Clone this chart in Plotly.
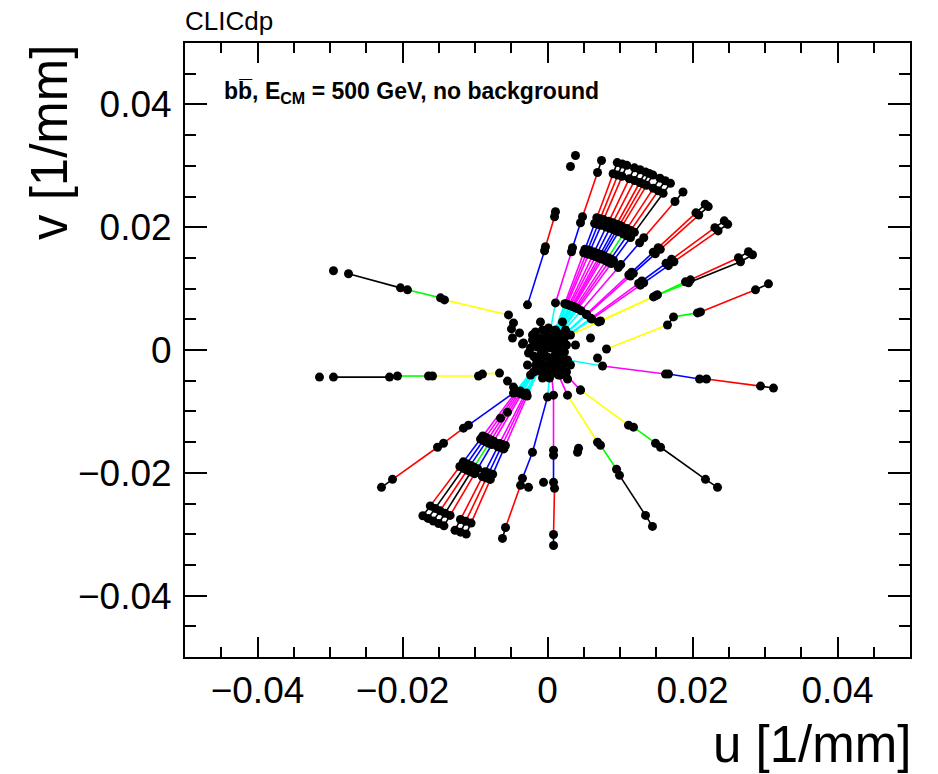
import plotly.graph_objects as go

# ---------------- data: conformal-space hits (u, v in 1/mm), outer -> inner ----------------
# segment colour codes: c cyan, m magenta, b blue, r red, k black, y yellow, g green, n no line
L1_u = [-0.02952, -0.02745, -0.02028, -0.01931, -0.01476, -0.01421, -0.00538]
L1_v = [0.01290, 0.01241, 0.01012, 0.00980, 0.00849, 0.00816, 0.00571]
L1_s = "nkkggy"

L2_u = [-0.03145, -0.02952, -0.02179, -0.02069, -0.01641, -0.01586, -0.00952, -0.00897, -0.00662]
L2_v = [-0.00441, -0.00441, -0.00441, -0.00424, -0.00424, -0.00424, -0.00424, -0.00392, -0.00376]
L2_s = "nkkggyyy"

U1_u = [0.00110, 0.00097, -0.00028, -0.00041, -0.00276]
U1_v = [0.02253, 0.02171, 0.01682, 0.01616, 0.00735]
U1_s = "krkb"

U2_u = [0.00745, 0.00690, 0.00483, 0.00455, 0.00345, 0.00331, 0.00110, 0.00028]
U2_v = [0.03086, 0.02890, 0.02171, 0.02073, 0.01665, 0.01600, 0.00767, 0.00245]
U2_s = "krkbkmc"

F1_u = [0.00962, 0.00905, 0.00680, 0.00650, 0.00517, 0.00499, 0.00238, 0.00090]
F1_v = [0.03052, 0.02871, 0.02155, 0.02060, 0.01640, 0.01583, 0.00753, 0.00286]
F2_u = [0.01031, 0.00970, 0.00728, 0.00696, 0.00554, 0.00535, 0.00255, 0.00097]
F2_v = [0.03029, 0.02849, 0.02139, 0.02045, 0.01628, 0.01571, 0.00748, 0.00284]
F3_u = [0.01094, 0.01029, 0.00773, 0.00739, 0.00588, 0.00568, 0.00270, 0.00103]
F3_v = [0.03007, 0.02828, 0.02124, 0.02030, 0.01616, 0.01560, 0.00742, 0.00282]
F4_u = [0.01199, 0.01128, 0.00847, 0.00809, 0.00644, 0.00622, 0.00296, 0.00112]
F4_v = [0.02967, 0.02791, 0.02095, 0.02003, 0.01595, 0.01539, 0.00732, 0.00278]
F5_u = [0.01276, 0.01200, 0.00901, 0.00861, 0.00686, 0.00662, 0.00315, 0.00120]
F5_v = [0.02935, 0.02760, 0.02073, 0.01981, 0.01577, 0.01522, 0.00725, 0.00275]
F6_u = [0.01352, 0.01272, 0.00955, 0.00913, 0.00727, 0.00702, 0.00334, 0.00127]
F6_v = [0.02900, 0.02728, 0.02048, 0.01958, 0.01559, 0.01504, 0.00716, 0.00272]
F7_u = [0.01403, 0.01320, 0.00991, 0.00947, 0.00754, 0.00728, 0.00346, 0.00132]
F7_v = [0.02876, 0.02705, 0.02031, 0.01941, 0.01546, 0.01492, 0.00710, 0.00270]
F8_u = [0.01453, 0.01367, 0.01026, 0.00981, 0.00781, 0.00754, 0.00359, 0.00136]
F8_v = [0.02851, 0.02682, 0.02014, 0.01925, 0.01533, 0.01479, 0.00704, 0.00267]
F9_u = [0.01551, 0.01459, 0.01096, 0.01047, 0.00834, 0.00805, 0.00383, 0.00145]
F9_v = [0.02799, 0.02633, 0.01977, 0.01889, 0.01504, 0.01452, 0.00691, 0.00262]
F10_u = [0.01624, 0.01528, 0.01147, 0.01096, 0.00873, 0.00842, 0.00401, 0.00152]
F10_v = [0.02757, 0.02593, 0.01947, 0.01861, 0.01482, 0.01430, 0.00681, 0.00258]
F11_u = [0.01696, 0.01595, 0.01198, 0.01145, 0.00911, 0.00880, 0.00419, 0.00159]
F11_v = [0.02714, 0.02552, 0.01916, 0.01832, 0.01459, 0.01408, 0.00670, 0.00254]

R1_u = [0.01869, 0.01758, 0.01328, 0.01270, 0.01011, 0.00976, 0.00464, 0.00176]
R1_v = [0.02573, 0.02419, 0.01828, 0.01747, 0.01391, 0.01343, 0.00639, 0.00243]
R2a_u = [0.02175, 0.02047, 0.01527, 0.01459, 0.01162, 0.01121, 0.00534, 0.00203]
R2a_v = [0.02374, 0.02234, 0.01666, 0.01593, 0.01268, 0.01224, 0.00582, 0.00221]
R2b_u = [0.02217, 0.02086, 0.01556, 0.01487, 0.01184, 0.01143, 0.00544, 0.00207]
R2b_v = [0.02336, 0.02198, 0.01639, 0.01567, 0.01248, 0.01204, 0.00573, 0.00218]
R3a_u = [0.02438, 0.02309, 0.01711, 0.01635, 0.01302, 0.01257, 0.00598, 0.00227]
R3a_v = [0.02104, 0.01993, 0.01477, 0.01411, 0.01124, 0.01085, 0.00516, 0.00196]
R3b_u = [0.02485, 0.02353, 0.01744, 0.01667, 0.01327, 0.01281, 0.00610, 0.00231]
R3b_v = [0.02048, 0.01940, 0.01438, 0.01374, 0.01094, 0.01056, 0.00503, 0.00191]
R4a_u = [0.02772, 0.02634, 0.01972, 0.01903, 0.01517, 0.01462, 0.00703, 0.00317]
R4a_v = [0.01600, 0.01502, 0.01143, 0.01110, 0.00898, 0.00865, 0.00457, 0.00245]
R4a_s = "krkgkyy"
R4b_u = [0.02828, 0.02662, 0.01945, 0.01490, 0.00731]
R4b_v = [0.01551, 0.01437, 0.01094, 0.00882, 0.00473]
R4b_s = "kkgy"
R5_u = [0.03048, 0.02869, 0.02110, 0.02069, 0.01738, 0.01655, 0.00814]
R5_v = [0.01078, 0.00980, 0.00620, 0.00604, 0.00539, 0.00408, 0.00016]
R5_s = "krkgky"
R6_u = [0.03117, 0.02938, 0.02193, 0.02097, 0.01669, 0.01628, 0.00759, 0.00276]
R6_v = [-0.00620, -0.00588, -0.00473, -0.00473, -0.00392, -0.00392, -0.00261, -0.00163]

LR1_u = [0.02345, 0.02179, 0.01559, 0.01490, 0.01186, 0.01117, 0.00455, 0.00221]
LR1_v = [-0.02237, -0.02106, -0.01584, -0.01518, -0.01257, -0.01224, -0.00653, -0.00359]
LR2_u = [0.01448, 0.01352, 0.00993, 0.00952, 0.00731, 0.00690, 0.00276, 0.00152]
LR2_v = [-0.02873, -0.02694, -0.02041, -0.01943, -0.01551, -0.01502, -0.00735, -0.00408]
LR_s = "kkkgkym"
LR3_u = [0.00083, 0.00083, 0.00097, 0.00083, 0.00083, 0.00083, 0.00083, 0.00055]
LR3_v = [-0.03184, -0.03004, -0.02253, -0.02155, -0.01714, -0.01633, -0.00735, -0.00359]
LR3_s = "krkbkmm"
LR4_u = [-0.00621, -0.00579, -0.00372, -0.00345, -0.00207, 0.00000, 0.00028]
LR4_v = [-0.03069, -0.02890, -0.02204, -0.02090, -0.01665, -0.00767, -0.00457]
LR4_s = "krkbbc"
LLs_u = [-0.02290, -0.02138, -0.01517, -0.01434, -0.01159, -0.01090, -0.00469, -0.00234]
LLs_v = [-0.02237, -0.02106, -0.01584, -0.01518, -0.01273, -0.01224, -0.00702, -0.00408]
LLs_s = "krkrkbc"

D1_u = [-0.01719, -0.01617, -0.01209, -0.01161, -0.00924, -0.00892, -0.00430, -0.00161]
D1_v = [-0.02699, -0.02539, -0.01898, -0.01822, -0.01451, -0.01400, -0.00675, -0.00253]
D2_u = [-0.01648, -0.01550, -0.01159, -0.01112, -0.00886, -0.00855, -0.00412, -0.00155]
D2_v = [-0.02743, -0.02580, -0.01929, -0.01852, -0.01474, -0.01423, -0.00686, -0.00257]
D3_u = [-0.01576, -0.01482, -0.01108, -0.01064, -0.00847, -0.00817, -0.00394, -0.00148]
D3_v = [-0.02785, -0.02620, -0.01958, -0.01880, -0.01497, -0.01445, -0.00696, -0.00261]
D4_u = [-0.01502, -0.01413, -0.01056, -0.01014, -0.00808, -0.00779, -0.00376, -0.00141]
D4_v = [-0.02825, -0.02658, -0.01987, -0.01907, -0.01519, -0.01466, -0.00706, -0.00265]
D5_u = [-0.01428, -0.01343, -0.01004, -0.00964, -0.00767, -0.00741, -0.00357, -0.00134]
D5_v = [-0.02864, -0.02694, -0.02014, -0.01933, -0.01539, -0.01486, -0.00716, -0.00268]
D6_u = [-0.01276, -0.01200, -0.00897, -0.00861, -0.00686, -0.00662, -0.00319, -0.00120]
D6_v = [-0.02935, -0.02760, -0.02063, -0.01981, -0.01577, -0.01522, -0.00734, -0.00275]
D7_u = [-0.01199, -0.01128, -0.00843, -0.00809, -0.00644, -0.00622, -0.00300, -0.00112]
D7_v = [-0.02967, -0.02791, -0.02086, -0.02003, -0.01595, -0.01539, -0.00742, -0.00278]
D8_u = [-0.01121, -0.01054, -0.00788, -0.00756, -0.00602, -0.00581, -0.00280, -0.00105]
D8_v = [-0.02997, -0.02819, -0.02108, -0.02023, -0.01611, -0.01555, -0.00749, -0.00281]

STD_s = "krkbkmc"

# hits not attached to a drawn segment
ISO_u = [0.00386, 0.00317, 0.00428, 0.00414, -0.00055, -0.00262, -0.00648, -0.00552,
         -0.00497, -0.00483, -0.00345, -0.00552, -0.00469, -0.00372, -0.00290,
         -0.00097, -0.00331, -0.00262, -0.00386, -0.00469, 0.00593, 0.00690, 0.00262,
         0.00386, 0.00179, -0.00028, -0.00166, -0.00097, 0.00041, 0.00110, -0.00124,
         -0.00028, 0.00110, 0.00179, -0.00207, 0.00248, 0.00014, -0.00069, 0.00069,
         0.00152, -0.00166, -0.00276, -0.00193, -0.00069, 0.00179, 0.00317, 0.00207,
         0.00110, 0.00455, 0.00276]
ISO_v = [0.03167, 0.02988, -0.01600, -0.01665, -0.02155, -0.02237, -0.01110, -0.01012,
         0.00343, 0.00196, 0.00098, -0.00506, -0.00604, -0.00669, -0.00702,
         0.00457, 0.00114, -0.00049, 0.00278, 0.00441, 0.00196, -0.00131, -0.00359,
         0.00082, 0.00163, 0.00163, 0.00082, -0.00082, -0.00163, 0.00000, -0.00245,
         -0.00327, -0.00245, -0.00082, 0.00245, 0.00327, 0.00359, 0.00082, 0.00131,
         0.00196, -0.00131, -0.00245, -0.00359, -0.00457, -0.00408, -0.00245, 0.00457,
         0.00327, -0.00653, -0.00473]

# dense cluster of outer-tracker hits near the origin
BLOB_u = [-0.00166, -0.00069, 0.00041, 0.00138, 0.00221, -0.00207, -0.00110, -0.00014,
          0.00083, 0.00179, 0.00262, -0.00234, -0.00138, -0.00041, 0.00055, 0.00152,
          0.00234, -0.00193, -0.00097, 0.00000, 0.00097, 0.00193, -0.00152, -0.00055,
          0.00041, 0.00138, 0.00014, -0.00083, 0.00110, 0.00207, -0.00124, -0.00014,
          0.00083]
BLOB_v = [0.00294, 0.00327, 0.00310, 0.00278, 0.00229, 0.00163, 0.00196, 0.00229,
          0.00212, 0.00147, 0.00082, 0.00033, 0.00049, 0.00000, 0.00033, 0.00049,
          -0.00033, -0.00098, -0.00163, -0.00114, -0.00098, -0.00163, -0.00261, -0.00245,
          -0.00261, -0.00294, 0.00114, -0.00049, -0.00180, -0.00261, -0.00343, -0.00392,
          -0.00376]

TRACKS = [
    (L1_u, L1_v, L1_s), (L2_u, L2_v, L2_s), (U1_u, U1_v, U1_s), (U2_u, U2_v, U2_s),
    (F1_u, F1_v, STD_s), (F2_u, F2_v, STD_s), (F3_u, F3_v, STD_s), (F4_u, F4_v, STD_s),
    (F5_u, F5_v, STD_s), (F6_u, F6_v, STD_s), (F7_u, F7_v, STD_s), (F8_u, F8_v, STD_s),
    (F9_u, F9_v, "krkgkmc"), (F10_u, F10_v, STD_s), (F11_u, F11_v, "kkkbkmc"),
    (R1_u, R1_v, STD_s), (R2a_u, R2a_v, STD_s), (R2b_u, R2b_v, STD_s),
    (R3a_u, R3a_v, STD_s), (R3b_u, R3b_v, STD_s), (R4a_u, R4a_v, R4a_s), (R4b_u, R4b_v, R4b_s),
    (R5_u, R5_v, R5_s), (R6_u, R6_v, STD_s),
    (LR1_u, LR1_v, LR_s), (LR2_u, LR2_v, LR_s), (LR3_u, LR3_v, LR3_s), (LR4_u, LR4_v, LR4_s),
    (LLs_u, LLs_v, LLs_s),
    (D1_u, D1_v, STD_s), (D2_u, D2_v, "kkkbkmc"), (D3_u, D3_v, STD_s), (D4_u, D4_v, "kkkgkmc"),
    (D5_u, D5_v, STD_s), (D6_u, D6_v, STD_s), (D7_u, D7_v, STD_s), (D8_u, D8_v, STD_s),
]

COLORS = {"c": "#00ffff", "m": "#ff00ff", "b": "#0000ff", "r": "#ff0000",
          "k": "#000000", "y": "#ffff00", "g": "#00ff00"}

FONT = "Liberation Sans, Arial, Helvetica, sans-serif"

fig = go.Figure()

seg = {k: ([], []) for k in COLORS}
for u, v, s in TRACKS:
    for i, ch in enumerate(s):
        if ch == "n":
            continue
        seg[ch][0].extend([u[i], u[i + 1], None])
        seg[ch][1].extend([v[i], v[i + 1], None])

for ch in ["c", "m", "b", "g", "y", "r", "k"]:
    xs, ys = seg[ch]
    if xs:
        fig.add_trace(go.Scatter(x=xs, y=ys, mode="lines",
                                 line=dict(color=COLORS[ch], width=1.6),
                                 hoverinfo="skip", showlegend=False))

hx, hy = [], []
for u, v, s in TRACKS:
    hx.extend(u)
    hy.extend(v)
hx.extend(ISO_u + BLOB_u)
hy.extend(ISO_v + BLOB_v)
fig.add_trace(go.Scatter(x=hx, y=hy, mode="markers",
                         marker=dict(color="black", size=9, line=dict(width=0)),
                         showlegend=False))

axis_common = dict(
    range=[-0.05, 0.05], tick0=0, dtick=0.02, ticks="inside", tickwidth=2,
    tickcolor="black", showline=True, linewidth=2, linecolor="black",
    mirror="ticks", showgrid=False, zeroline=False,
    tickfont=dict(family=FONT, size=37, color="black"),
)
fig.update_xaxes(**axis_common, ticklen=20,
                 minor=dict(tick0=0, dtick=0.005, ticks="inside", ticklen=10,
                            tickwidth=2, tickcolor="black", showgrid=False))
fig.update_yaxes(**axis_common, ticklen=22, ticklabelstandoff=4,
                 minor=dict(tick0=0, dtick=0.005, ticks="inside", ticklen=11,
                            tickwidth=2, tickcolor="black", showgrid=False))

# the page body adds an 8 px offset, so the figure is 8 px smaller with 8 px less margin
fig.update_layout(
    width=930, height=766,
    margin=dict(l=177, r=28, t=35, b=117),
    paper_bgcolor="white", plot_bgcolor="white",
    font=dict(family=FONT, color="black"),
    annotations=[
        dict(text="CLICdp", xref="paper", yref="paper", x=-0.003, y=1.036,
             xanchor="left", yanchor="middle", showarrow=False,
             font=dict(family=FONT, size=26)),
        dict(text="u [1/mm]", xref="paper", yref="paper", x=1.004, y=-0.143,
             xanchor="right", yanchor="middle", showarrow=False,
             font=dict(family=FONT, size=51)),
        dict(text="v [1/mm]", xref="paper", yref="paper", x=-0.186, y=0.839,
             xanchor="center", yanchor="middle", textangle=-90, showarrow=False,
             font=dict(family=FONT, size=51)),
        dict(text="<b>bb\u0305, E<sub>CM</sub> = 500 GeV, no background</b>",
             xref="paper", yref="paper", x=0.051, y=0.920,
             xanchor="left", yanchor="middle", showarrow=False,
             font=dict(family=FONT, size=23)),
    ],
)

fig.write_html("out.html")
